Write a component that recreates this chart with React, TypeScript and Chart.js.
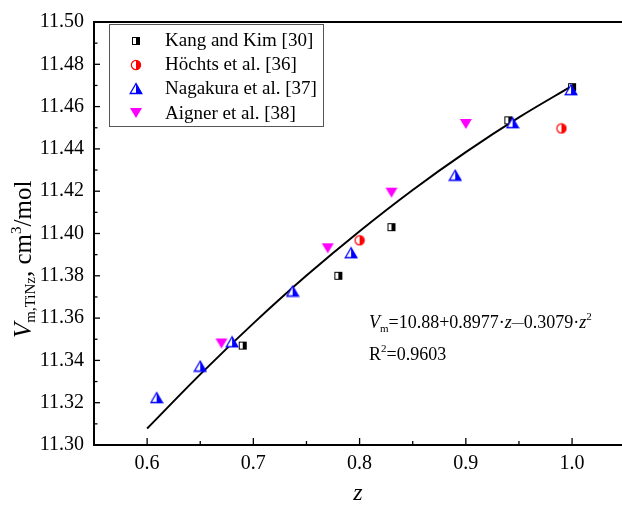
import React, { useEffect, useRef } from "react";
import { Chart, registerables } from "chart.js";

Chart.register(...registerables);

const FONT = '"Liberation Serif", "Times New Roman", serif';

// ---- data ----
const seriesNames = ["Kang and Kim [30]", "Höchts et al. [36]", "Nagakura et al. [37]", "Aigner et al. [38]"];

const kangZ = [0.69, 0.78, 0.83, 0.94, 1.0];
const kangV = [11.347, 11.380, 11.403, 11.4535, 11.4692];

const hochtsZ = [0.8, 0.99];
const hochtsV = [11.3968, 11.4497];

const nagakuraZ = [0.609, 0.65, 0.68, 0.737, 0.792, 0.89, 0.944, 0.999];
const nagakuraV = [11.3224, 11.3373, 11.3488, 11.3728, 11.3909, 11.4276, 11.4524, 11.468];

const aignerZ = [0.67, 0.77, 0.83, 0.9];
const aignerV = [11.348, 11.393, 11.4193, 11.4518];

// fitted curve
const fitZ = [0.6, 0.65, 0.7, 0.75, 0.8, 0.85, 0.9, 0.95, 1.0];
const fitV = [11.3078, 11.3334, 11.3575, 11.3801, 11.4011, 11.4206, 11.4385, 11.4549, 11.4698];

const xTickValues = [0.6, 0.7, 0.8, 0.9, 1.0];
const xTickLabels = ["0.6", "0.7", "0.8", "0.9", "1.0"];
const yTickValues = [11.3, 11.32, 11.34, 11.36, 11.38, 11.4, 11.42, 11.44, 11.46, 11.48, 11.5];
const yTickLabels = ["11.30", "11.32", "11.34", "11.36", "11.38", "11.40", "11.42", "11.44", "11.46", "11.48", "11.50"];

const equationLine1 = ["V", "m", "=10.88+0.8977·", "z", "—", "0.3079·", "z", "2"];
const equationLine2 = ["R", "2", "=0.9603"];
const yTitleParts = ["V", "m,TiNz", ", cm", "3", "/mol"];
const xTitle = "z";

const toPts = (xs: number[], ys: number[]) => xs.map((x, i) => ({ x, y: ys[i] }));

function mk(w: number, h: number, draw: (c: CanvasRenderingContext2D) => void) {
  const cv = document.createElement("canvas");
  cv.width = w;
  cv.height = h;
  const c = cv.getContext("2d")!;
  draw(c);
  return cv;
}

function squareImg() {
  return mk(10, 10, (c) => {
    c.fillStyle = "#fff";
    c.fillRect(1, 1, 8, 8);
    c.fillStyle = "#000";
    c.fillRect(5, 1, 4, 8);
    c.strokeStyle = "#000";
    c.lineWidth = 1;
    c.strokeRect(1.5, 1.5, 7, 7);
  });
}
function circleImg() {
  return mk(12, 12, (c) => {
    const p = () => {
      c.beginPath();
      c.arc(6, 6, 4.6, 0, Math.PI * 2);
    };
    p();
    c.fillStyle = "#fff";
    c.fill();
    c.save();
    c.beginPath();
    c.rect(6, 0, 6, 12);
    c.clip();
    p();
    c.fillStyle = "#f00";
    c.fill();
    c.restore();
    p();
    c.strokeStyle = "#f00";
    c.lineWidth = 1.2;
    c.stroke();
  });
}
function triImg() {
  return mk(14, 13, (c) => {
    const p = () => {
      c.beginPath();
      c.moveTo(7, 1.5);
      c.lineTo(12.8, 11.5);
      c.lineTo(1.2, 11.5);
      c.closePath();
    };
    p();
    c.fillStyle = "#fff";
    c.fill();
    c.save();
    c.beginPath();
    c.rect(7, 0, 7, 13);
    c.clip();
    p();
    c.fillStyle = "#00f";
    c.fill();
    c.restore();
    p();
    c.strokeStyle = "#00f";
    c.lineWidth = 1.3;
    c.stroke();
  });
}
function invTriImg() {
  return mk(14, 12, (c) => {
    c.beginPath();
    c.moveTo(1, 1);
    c.lineTo(13, 1);
    c.lineTo(7, 11);
    c.closePath();
    c.fillStyle = "#f0f";
    c.fill();
  });
}

type Run = { t: string; font: string; dy?: number };
function drawRuns(ctx: CanvasRenderingContext2D, runs: Run[], x: number, y: number) {
  let cx = x;
  for (const r of runs) {
    ctx.font = r.font;
    ctx.fillText(r.t, cx, y + (r.dy || 0));
    cx += ctx.measureText(r.t).width;
  }
}

export default function App() {
  const ref = useRef<HTMLCanvasElement>(null);

  useEffect(() => {
    const imgs = [squareImg(), circleImg(), triImg(), invTriImg()];

    const deco = {
      id: "deco",
      afterDraw(chart: any) {
        const { ctx, chartArea } = chart;
        const xs = chart.scales.x;
        const ys = chart.scales.y;
        ctx.save();
        ctx.strokeStyle = "#000";
        // top frame line
        ctx.lineWidth = 2;
        ctx.beginPath();
        ctx.moveTo(chartArea.left - 1, chartArea.top);
        ctx.lineTo(chart.width, chartArea.top);
        ctx.stroke();
        // inward ticks
        ctx.lineWidth = 1.3;
        ys.ticks.forEach((t: any) => {
          const n = Math.round(t.value * 100);
          const len = n % 2 === 0 ? 6 : 3.5;
          const y = ys.getPixelForValue(t.value);
          ctx.beginPath();
          ctx.moveTo(chartArea.left, y);
          ctx.lineTo(chartArea.left + len, y);
          ctx.stroke();
        });
        xs.ticks.forEach((t: any) => {
          const n = Math.round(t.value * 1000);
          if (n % 50 !== 0 || t.value <= xs.min + 1e-6) return;
          const len = n % 100 === 0 ? 7 : 4;
          const x = xs.getPixelForValue(t.value);
          ctx.beginPath();
          ctx.moveTo(x, chartArea.bottom);
          ctx.lineTo(x, chartArea.bottom - len);
          ctx.stroke();
        });

        // legend
        ctx.lineWidth = 1;
        ctx.strokeStyle = "#555";
        ctx.strokeRect(109.5, 24.5, 214, 102);
        ctx.fillStyle = "#000";
        ctx.textBaseline = "middle";
        ctx.textAlign = "left";
        ctx.font = `19px ${FONT}`;
        const rowY = [40.5, 64.5, 88.5, 113];
        seriesNames.forEach((name, i) => {
          const im = imgs[i];
          ctx.drawImage(im, Math.round(136 - im.width / 2), Math.round(rowY[i] - im.height / 2));
          ctx.fillText(name, 165, rowY[i] + 1);
        });

        // equation
        ctx.textBaseline = "alphabetic";
        const f = `18px ${FONT}`;
        const fi = `italic 18px ${FONT}`;
        const fs = `11px ${FONT}`;
        const fd = `12px ${FONT}`;
        drawRuns(
          ctx,
          [
            { t: equationLine1[0], font: fi },
            { t: equationLine1[1], font: fs, dy: 4 },
            { t: equationLine1[2], font: f },
            { t: equationLine1[3], font: fi },
            { t: equationLine1[4], font: fd, dy: -2 },
            { t: equationLine1[5], font: f },
            { t: equationLine1[6], font: fi },
            { t: equationLine1[7], font: fs, dy: -8 },
          ],
          369,
          328
        );
        drawRuns(
          ctx,
          [
            { t: equationLine2[0], font: f },
            { t: equationLine2[1], font: fs, dy: -8 },
            { t: equationLine2[2], font: f },
          ],
          369,
          360
        );

        // x title
        ctx.font = `italic 24px ${FONT}`;
        ctx.textAlign = "center";
        ctx.fillText(xTitle, (chartArea.left + chartArea.right) / 2, 500);

        // y title (rotated)
        ctx.textAlign = "left";
        ctx.translate(31, 338);
        ctx.rotate(-Math.PI / 2);
        const F = `25px ${FONT}`;
        const FI = `italic 25px ${FONT}`;
        const FS = `15px ${FONT}`;
        drawRuns(
          ctx,
          [
            { t: yTitleParts[0], font: FI },
            { t: yTitleParts[1], font: FS, dy: 4 },
            { t: yTitleParts[2], font: F },
            { t: yTitleParts[3], font: FS, dy: -10 },
            { t: yTitleParts[4], font: F },
          ],
          0,
          0
        );
        ctx.restore();
      },
    };

    const xCb = (v: any) => {
      const i = xTickValues.findIndex((t) => Math.abs(t - Number(v)) < 1e-6);
      return i >= 0 ? xTickLabels[i] : "";
    };
    const yCb = (v: any) => {
      const i = yTickValues.findIndex((t) => Math.abs(t - Number(v)) < 1e-6);
      return i >= 0 ? yTickLabels[i] : "";
    };

    const chart = new Chart(ref.current!, {
      type: "scatter",
      data: {
        datasets: [
          {
            label: seriesNames[3],
            data: toPts(aignerZ, aignerV),
            pointStyle: imgs[3] as any,
            pointRadius: 6,
          },
          {
            label: seriesNames[2],
            data: toPts(nagakuraZ, nagakuraV),
            pointStyle: imgs[2] as any,
            pointRadius: 6,
          },
          {
            label: seriesNames[1],
            data: toPts(hochtsZ, hochtsV),
            pointStyle: imgs[1] as any,
            pointRadius: 6,
          },
          {
            label: seriesNames[0],
            data: toPts(kangZ, kangV),
            pointStyle: imgs[0] as any,
            pointRadius: 6,
          },
          {
            label: "fit",
            data: toPts(fitZ, fitV),
            showLine: true,
            pointRadius: 0,
            borderColor: "#000",
            borderWidth: 2,
            cubicInterpolationMode: "monotone",
            fill: false,
          } as any,
        ],
      },
      options: {
        animation: false,
        responsive: false,
        maintainAspectRatio: false,
        devicePixelRatio: 1,
        layout: { autoPadding: false, padding: { left: 0, top: 14, right: 0, bottom: 0 } },
        plugins: { legend: { display: false }, tooltip: { enabled: false } },
        scales: {
          x: {
            type: "linear",
            min: 0.55,
            max: 1.047,
            grid: { display: false, drawTicks: false },
            border: { display: true, color: "#000", width: 2 },
            ticks: {
              stepSize: 0.05,
              includeBounds: false,
              autoSkip: false,
              maxRotation: 0,
              padding: 7,
              color: "#000",
              font: { family: FONT, size: 20 },
              callback: xCb,
            },
            afterFit: (s: any) => {
              s.height = 65;
            },
          },
          y: {
            type: "linear",
            min: 11.3,
            max: 11.5,
            grid: { display: false, drawTicks: false },
            border: { display: true, color: "#000", width: 2 },
            ticks: {
              stepSize: 0.01,
              autoSkip: false,
              padding: 10,
              color: "#000",
              font: { family: FONT, size: 20 },
              callback: yCb,
            },
            afterFit: (s: any) => {
              s.width = 94;
            },
          },
        },
      },
      plugins: [deco],
    } as any);

    return () => chart.destroy();
  }, []);

  return (
    <div style={{ position: "fixed", left: 0, top: 0, width: 622, height: 510, background: "#fff" }}>
      <canvas ref={ref} width={622} height={510} style={{ display: "block", width: 622, height: 510 }} />
    </div>
  );
}
